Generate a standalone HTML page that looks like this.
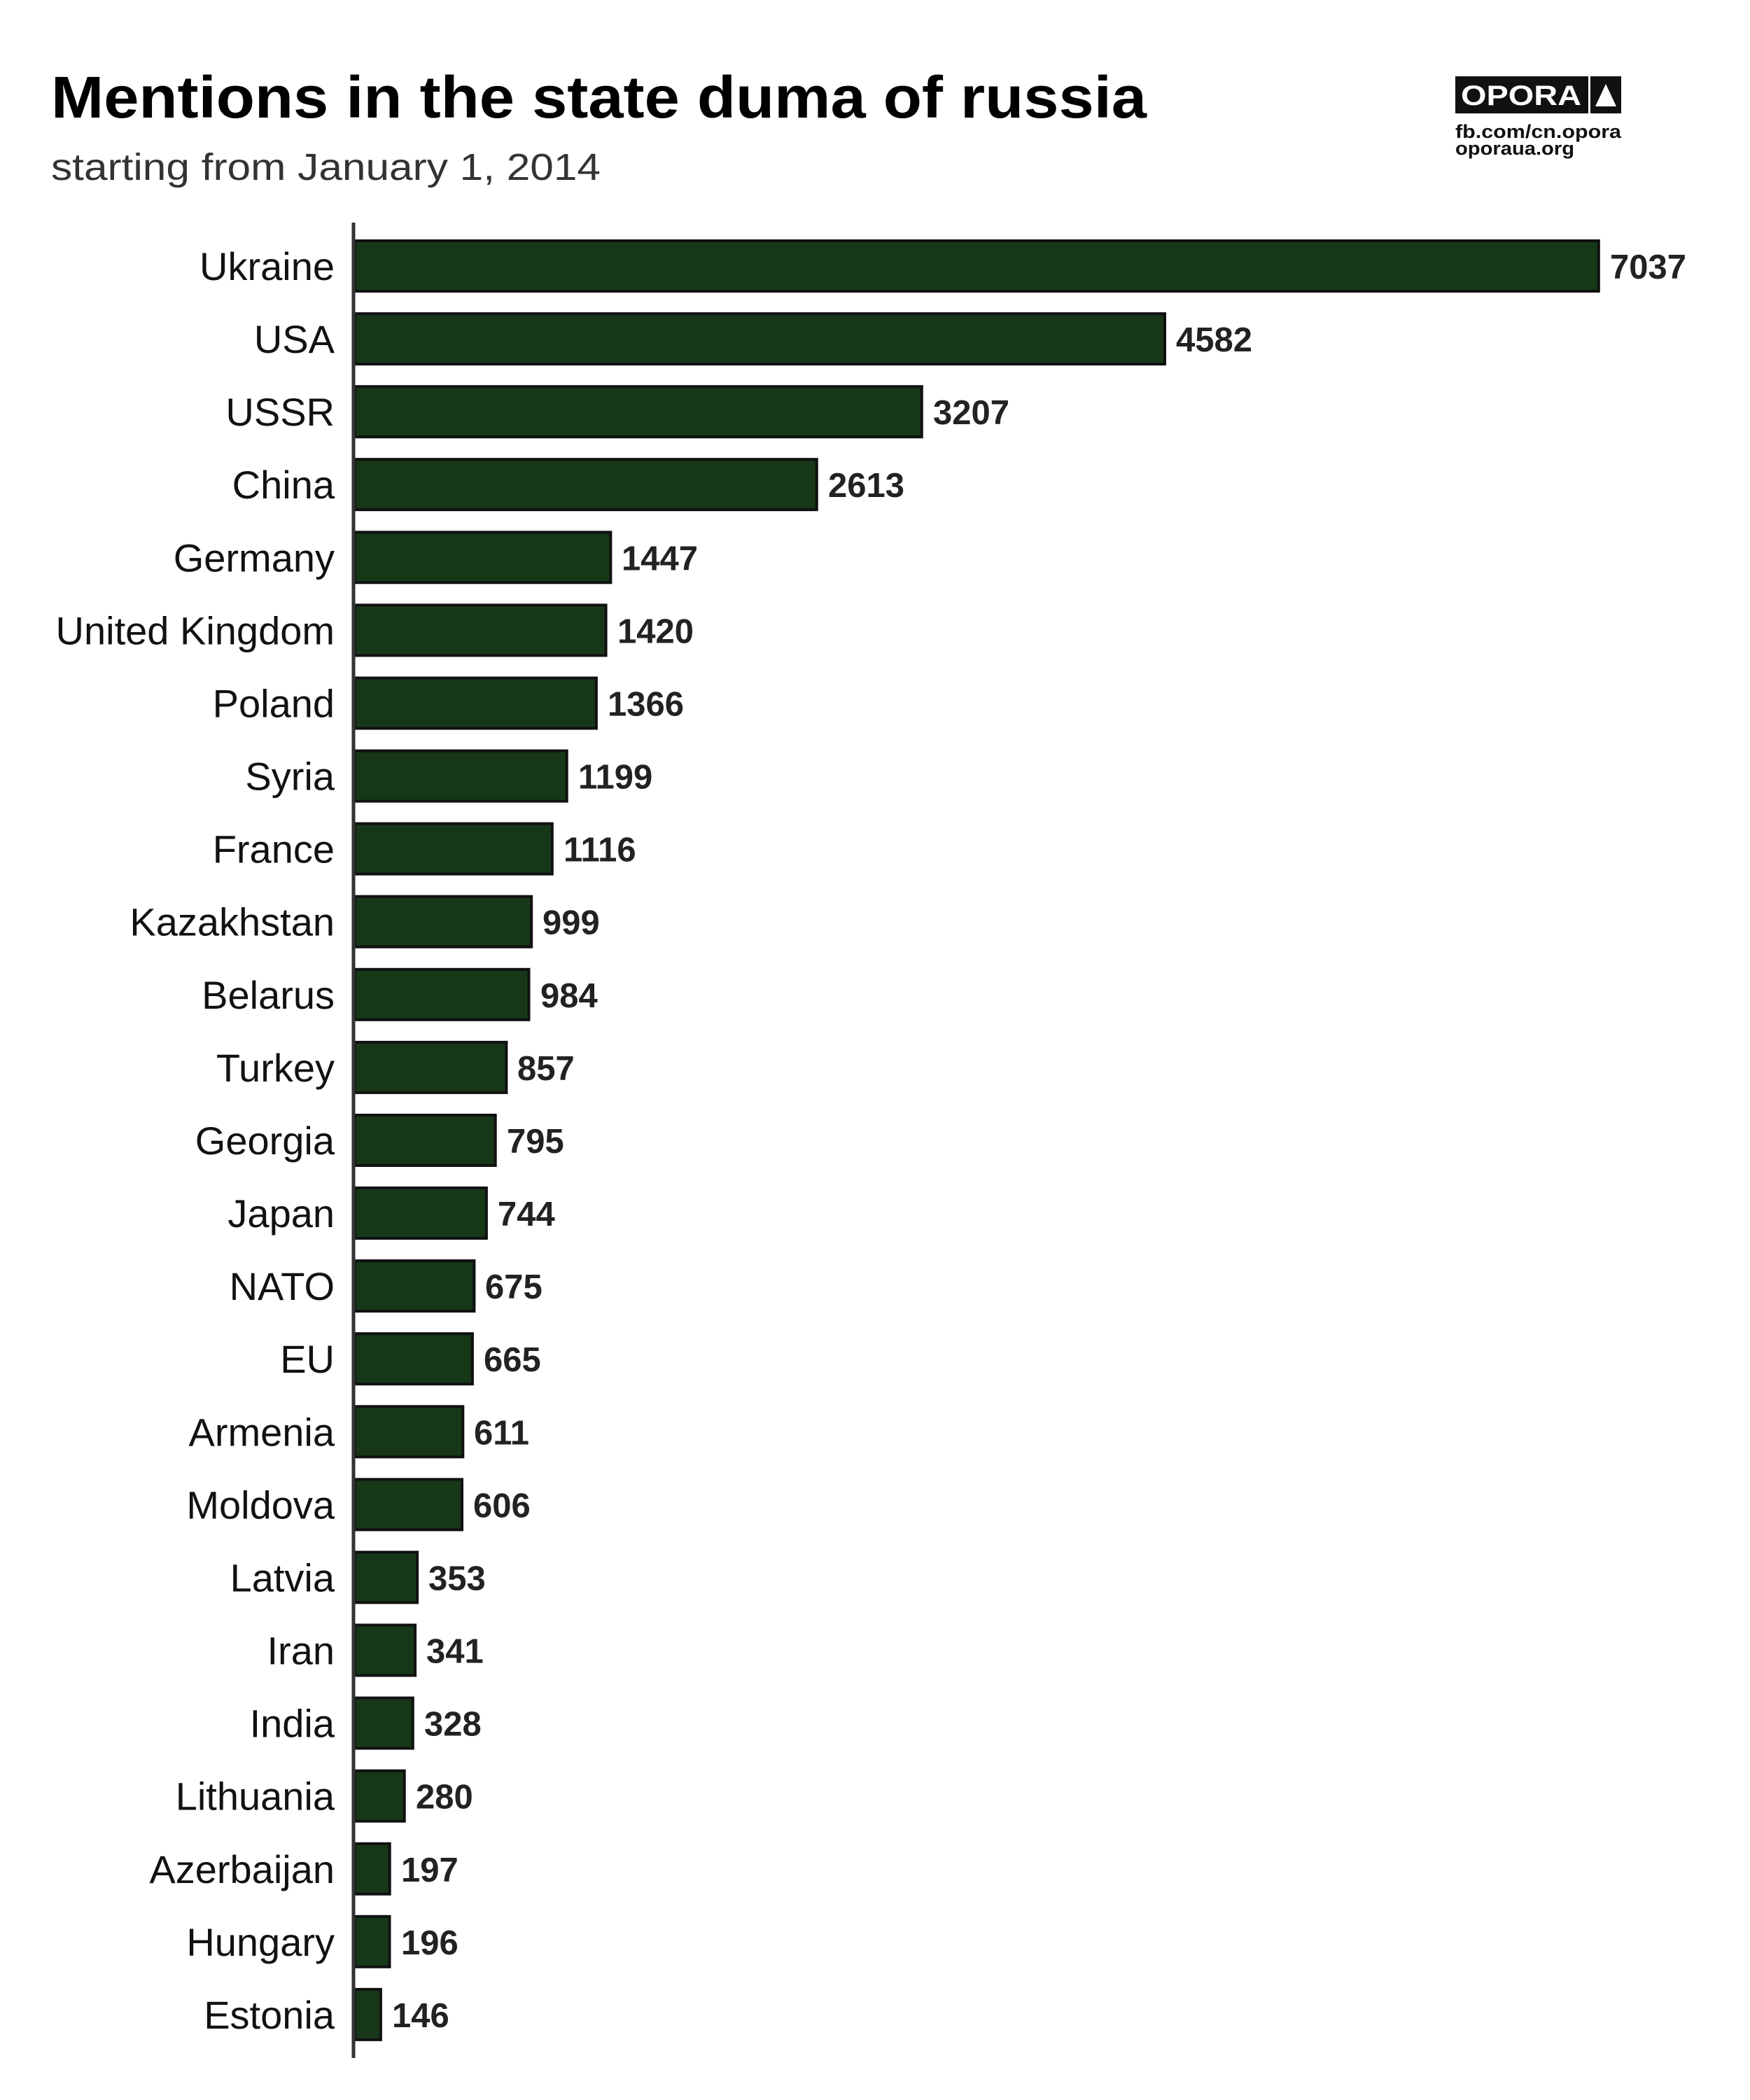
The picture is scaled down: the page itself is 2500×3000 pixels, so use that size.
<!DOCTYPE html>
<html><head><meta charset="utf-8"><style>html,body{margin:0;padding:0;background:#fff}svg{display:block}</style></head>
<body>
<svg width="2500" height="3000" viewBox="0 0 2500 3000" xmlns="http://www.w3.org/2000/svg" font-family="Liberation Sans, sans-serif">
<rect width="2500" height="3000" fill="#fff"/>
<text x="73" y="168" font-size="84" font-weight="bold" fill="#000" textLength="1565" lengthAdjust="spacingAndGlyphs">Mentions in the state duma of russia</text>
<text x="73" y="257" font-size="54" fill="#333" textLength="785" lengthAdjust="spacingAndGlyphs">starting from January 1, 2014</text>
<rect x="2079" y="109" width="190" height="53" fill="#111"/>
<text x="2087" y="150" font-size="40" font-weight="bold" fill="#fff" textLength="172" lengthAdjust="spacingAndGlyphs">OPORA</text>
<rect x="2272" y="109" width="44" height="53" fill="#111"/>
<polygon points="2294,120 2309,152 2279,152" fill="#fff"/>
<text x="2079" y="197" font-size="27" font-weight="bold" fill="#111" textLength="237" lengthAdjust="spacingAndGlyphs">fb.com/cn.opora</text>
<text x="2079" y="221" font-size="27" font-weight="bold" fill="#111" textLength="170" lengthAdjust="spacingAndGlyphs">oporaua.org</text>
<g fill="#163819" stroke="#111" stroke-width="4">
<rect x="507" y="344" width="1776.8" height="72"/>
<rect x="507" y="448.1" width="1157" height="72"/>
<rect x="507" y="552.2" width="809.8" height="72"/>
<rect x="507" y="656.2" width="659.8" height="72"/>
<rect x="507" y="760.3" width="365.4" height="72"/>
<rect x="507" y="864.4" width="358.6" height="72"/>
<rect x="507" y="968.5" width="344.9" height="72"/>
<rect x="507" y="1072.6" width="302.7" height="72"/>
<rect x="507" y="1176.6" width="281.8" height="72"/>
<rect x="507" y="1280.7" width="252.2" height="72"/>
<rect x="507" y="1384.8" width="248.5" height="72"/>
<rect x="507" y="1488.9" width="216.4" height="72"/>
<rect x="507" y="1593" width="200.7" height="72"/>
<rect x="507" y="1697" width="187.9" height="72"/>
<rect x="507" y="1801.1" width="170.4" height="72"/>
<rect x="507" y="1905.2" width="167.9" height="72"/>
<rect x="507" y="2009.3" width="154.3" height="72"/>
<rect x="507" y="2113.4" width="153" height="72"/>
<rect x="507" y="2217.4" width="89.1" height="72"/>
<rect x="507" y="2321.5" width="86.1" height="72"/>
<rect x="507" y="2425.6" width="82.8" height="72"/>
<rect x="507" y="2529.7" width="70.7" height="72"/>
<rect x="507" y="2633.8" width="49.7" height="72"/>
<rect x="507" y="2737.8" width="49.5" height="72"/>
<rect x="507" y="2841.9" width="36.9" height="72"/>
</g>
<line x1="505" y1="318" x2="505" y2="2940" stroke="#333" stroke-width="5"/>
<g font-size="56" fill="#111" text-anchor="end">
<text x="478" y="400">Ukraine</text>
<text x="478" y="504.1">USA</text>
<text x="478" y="608.2">USSR</text>
<text x="478" y="712.2">China</text>
<text x="478" y="816.3">Germany</text>
<text x="478" y="920.4">United Kingdom</text>
<text x="478" y="1024.5">Poland</text>
<text x="478" y="1128.6">Syria</text>
<text x="478" y="1232.6">France</text>
<text x="478" y="1336.7">Kazakhstan</text>
<text x="478" y="1440.8">Belarus</text>
<text x="478" y="1544.9">Turkey</text>
<text x="478" y="1649">Georgia</text>
<text x="478" y="1753">Japan</text>
<text x="478" y="1857.1">NATO</text>
<text x="478" y="1961.2">EU</text>
<text x="478" y="2065.3">Armenia</text>
<text x="478" y="2169.4">Moldova</text>
<text x="478" y="2273.4">Latvia</text>
<text x="478" y="2377.5">Iran</text>
<text x="478" y="2481.6">India</text>
<text x="478" y="2585.7">Lithuania</text>
<text x="478" y="2689.8">Azerbaijan</text>
<text x="478" y="2793.8">Hungary</text>
<text x="478" y="2897.9">Estonia</text>
</g>
<g font-size="49" font-weight="bold" fill="#222">
<text x="2300" y="398">7037</text>
<text x="1680" y="502.1">4582</text>
<text x="1333" y="606.2">3207</text>
<text x="1183" y="710.2">2613</text>
<text x="888" y="814.3">1447</text>
<text x="882" y="918.4">1420</text>
<text x="868" y="1022.5">1366</text>
<text x="826" y="1126.6">1199</text>
<text x="805" y="1230.6">1116</text>
<text x="775" y="1334.7">999</text>
<text x="772" y="1438.8">984</text>
<text x="739" y="1542.9">857</text>
<text x="724" y="1647">795</text>
<text x="711" y="1751">744</text>
<text x="693" y="1855.1">675</text>
<text x="691" y="1959.2">665</text>
<text x="677" y="2063.3">611</text>
<text x="676" y="2167.4">606</text>
<text x="612" y="2271.4">353</text>
<text x="609" y="2375.5">341</text>
<text x="606" y="2479.6">328</text>
<text x="594" y="2583.7">280</text>
<text x="573" y="2687.8">197</text>
<text x="573" y="2791.8">196</text>
<text x="560" y="2895.9">146</text>
</g>
</svg>
</body></html>
